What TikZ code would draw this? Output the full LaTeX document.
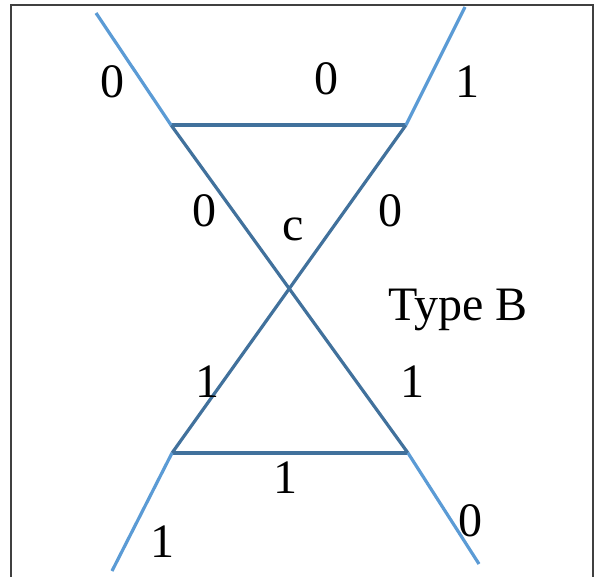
\documentclass[tikz,border=0pt]{standalone}
\usepackage{fontspec}
\setmainfont{Liberation Serif}
\definecolor{outerblue}{HTML}{5B9BD5}
\definecolor{innerblue}{HTML}{41719C}
\begin{document}
\begin{tikzpicture}[x=1pt,y=-1pt,
  outerline/.style={draw=outerblue,line width=3.2pt},
  innerline/.style={draw=innerblue,line width=3.2pt},
  lbl/.style={anchor=base,inner sep=0pt,font=\fontsize{48}{52}\selectfont}]
\useasboundingbox (0,0) rectangle (597,576);
\clip (0,0) rectangle (597,576);
\draw[draw=black!75,line width=1.2pt] (11,5) rectangle (593,600);
% junctions
\coordinate (tl) at (171,125);
\coordinate (tr) at (406,125);
\coordinate (bl) at (172,453);
\coordinate (br) at (408,453);
% free ends
\coordinate (etl) at (96,13);
\coordinate (etr) at (465,7);
\coordinate (ebl) at (112,571);
\coordinate (ebr) at (479,564);
% inner lines
\draw[innerline] (tl) -- (tr);
\draw[innerline] (bl) -- (br);
\draw[innerline] (tl) -- (br);
\draw[innerline] (tr) -- (bl);
% outer lines
\draw[outerline] (etl) -- (tl);
\draw[outerline] (etr) -- (tr);
\draw[outerline] (ebl) -- (bl);
\draw[outerline] (ebr) -- (br);
% labels
\node[lbl] (l1) at (112,97) {0};
\node[lbl] (l2) at (326,94) {0};
\node[lbl] (l3) at (467,97) {1};
\node[lbl] (l4) at (204,226) {0};
\node[lbl] (l5) at (293,240) {c};
\node[lbl] (l6) at (390,226) {0};
\node[lbl] (l7) at (458,320) {Type B};
\node[lbl] (l8) at (207,397) {1};
\node[lbl] (l9) at (412,397) {1};
\node[lbl] (l10) at (285,493) {1};
\node[lbl] (l11) at (470,536) {0};
\node[lbl] (l12) at (162,557) {1};
\end{tikzpicture}
\end{document}
